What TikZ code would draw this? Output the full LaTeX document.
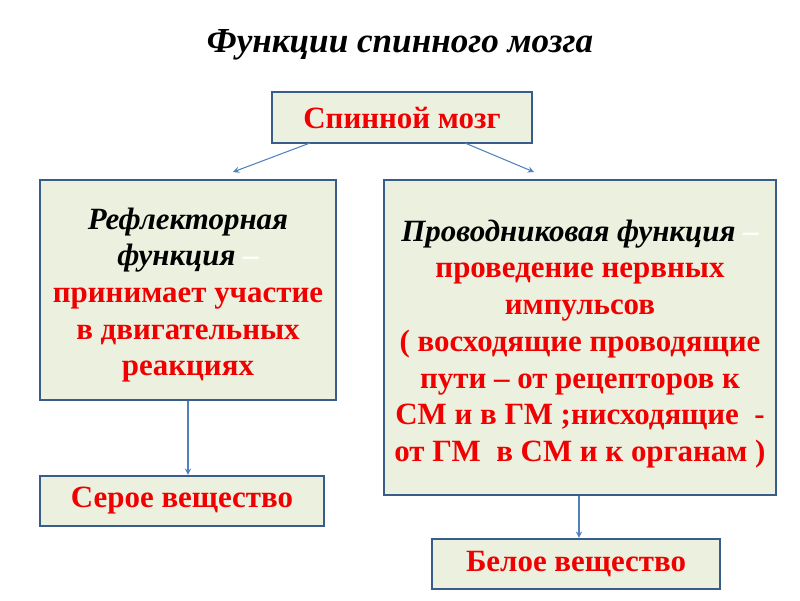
\documentclass[tikz,border=0pt]{standalone}
\usepackage{fontspec}
\setmainfont{Liberation Serif}
\definecolor{boxfill}{RGB}{235,241,222}
\definecolor{boxline}{RGB}{56,93,138}
\definecolor{arrowblue}{RGB}{79,129,189}
\definecolor{redtext}{RGB}{240,0,0}
\tikzset{
  box/.style={draw=boxline,fill=boxfill,line width=1.4pt,inner sep=0pt,align=center,
    font=\bfseries\fontsize{17.6}{20.9}\selectfont,text=redtext},
  link/.style={->,draw=arrowblue,line width=0.6pt}
}
\begin{document}
\begin{tikzpicture}[>=stealth,x=0.02cm,y=-0.02cm]
\useasboundingbox (0,0) rectangle (800,600);
\node (title) at (400,45) {\bfseries\itshape\fontsize{20}{24}\selectfont Функции спинного мозга};
\node[box,minimum width=5.2cm,minimum height=1.02cm] (sm) at (402,117.5) {Спинной мозг};
\node[box,minimum width=5.92cm,minimum height=4.4cm] (refl) at (188,290) {\rule{0pt}{18pt}{\color{black}\itshape Рефлекторная}\\
{\color{black}\itshape функция} {\color{white}–}\\
принимает участие\\
в двигательных\\
реакциях};
\node[box,minimum width=7.84cm,minimum height=6.3cm] (prov) at (580,337.5) {\rule{0pt}{19.5pt}{\color{black}\itshape Проводниковая функция} {\color{white}–}\\
проведение нервных\\
импульсов\\
( восходящие проводящие\\
пути – от рецепторов к\\
СМ и в ГМ ;нисходящие\ \ -\\
от ГМ\ \ в СМ и к органам )};
\node[box,minimum width=5.68cm,minimum height=1cm] (grey) at (182,501) {Серое вещество};
\node[box,minimum width=5.76cm,minimum height=1cm] (white) at (576,564) {Белое вещество};
\coordinate (sml) at (310,143);
\coordinate (smr) at (465,143);
\coordinate (lt) at (233,172);
\coordinate (rt) at (534,172);
\draw[link] (sml) -- (lt);
\draw[link] (smr) -- (rt);
\draw[link] (refl.south -| grey.north) ++(6,0) coordinate (rb) -- (rb |- grey.north);
\draw[link] (prov.south -| white.north) ++(3,0) coordinate (pb) -- (pb |- white.north);
\end{tikzpicture}
\end{document}
